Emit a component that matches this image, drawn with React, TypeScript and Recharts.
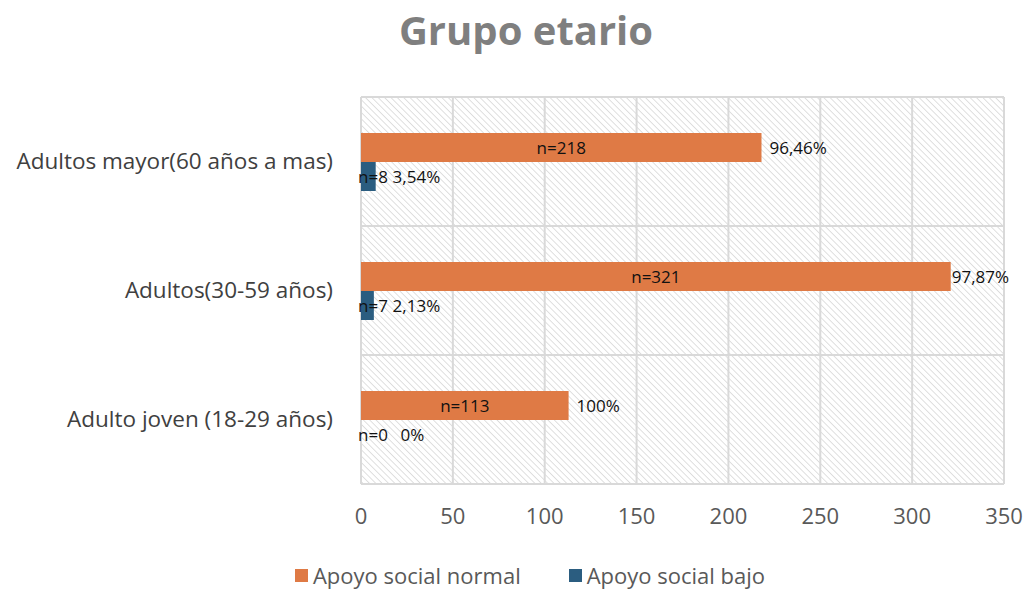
import { BarChart, Bar, XAxis, YAxis, CartesianGrid, LabelList } from 'recharts';

const categories = ['Adultos mayor(60 años a mas)', 'Adultos(30-59 años)', 'Adulto joven (18-29 años)'];
const normalValues = [218, 321, 113];
const bajoValues = [8, 7, 0];
const normalPct = ['96,46%', '97,87%', '100%'];
const bajoPct = ['3,54%', '2,13%', '0%'];
const xTicks = [0, 50, 100, 150, 200, 250, 300, 350];

const ORANGE = '#DF7A45';
const BLUE = '#2B5D80';
const FONT = '"Open Sans", "Liberation Sans", sans-serif';

const W = 1030;
const H = 592;
const MARGIN = { top: 97, right: 26, bottom: 78, left: 0 };
const PLOT_RIGHT = W - MARGIN.right;
const LABEL_SIZE = 17;

const data = categories.map((name, i) => ({
  name,
  normal: normalValues[i],
  bajo: bajoValues[i],
  normalPct: normalPct[i],
  bajoPct: bajoPct[i],
}));

// rough text width for the data labels
const textW = (s: string) => s.length * LABEL_SIZE * 0.6;

const drawPair = (n: string, pct: string, x: number, width: number, cy: number, zero: boolean, key: string) => {
  const nw = textW(n);
  const fits = nw < width - 4;
  const nStart = fits ? x + width / 2 - nw / 2 : x - 3;
  const nEnd = nStart + nw;
  let pStart = Math.max(x + width + 8, fits ? 0 : nEnd + 4);
  if (zero) pStart = nEnd + 12;
  pStart = Math.max(Math.min(pStart, PLOT_RIGHT - textW(pct)), x + width + 1);
  return (
    <g key={key} fontFamily={FONT} fontSize={LABEL_SIZE} fill="#111">
      <text x={fits ? x + width / 2 : nStart} y={cy} textAnchor={fits ? 'middle' : 'start'} dominantBaseline="central">{n}</text>
      <text x={pStart} y={cy} textAnchor="start" dominantBaseline="central">{pct}</text>
    </g>
  );
};

const makeLabel = (kind: 'normal' | 'bajo') => (props: any) => {
  const { x, y, width, height, index } = props;
  const row = data[index];
  const cy = y + height / 2;
  if (kind === 'bajo') {
    if (row.bajo === 0) return null;
    return drawPair(`n=${row.bajo}`, row.bajoPct, x, width, cy, false, 'b');
  }
  const parts = [drawPair(`n=${row.normal}`, row.normalPct, x, width, cy, false, 'n')];
  // a zero-length bar gets no label of its own, so draw it from the bar above
  if (row.bajo === 0) parts.push(drawPair(`n=${row.bajo}`, row.bajoPct, x, 0, cy + height, true, 'z'));
  return <g>{parts}</g>;
};

const legendItems = [
  { label: 'Apoyo social normal', color: ORANGE },
  { label: 'Apoyo social bajo', color: BLUE },
];

export default function App() {
  return (
    <div style={{ position: 'absolute', left: 0, top: 0, width: W, height: H, background: '#fff' }}>
      <div style={{ position: 'absolute', top: 2, left: 11, width: W, textAlign: 'center', fontFamily: FONT, fontWeight: 700, fontSize: 40, color: '#7F7F7F' }}>
        Grupo etario
      </div>
      <BarChart width={W} height={H} data={data} layout="vertical" margin={MARGIN} barGap={0}>
        <defs>
          <pattern id="hatch" width="4.5" height="4.5" patternUnits="userSpaceOnUse" patternTransform="rotate(-45)">
            <line x1="0" y1="0" x2="0" y2="4.5" stroke="#CACACA" strokeWidth="1.2" />
          </pattern>
        </defs>
        <CartesianGrid
          fill="url(#hatch)"
          stroke="#D9D9D9"
          strokeWidth={2}
          horizontalCoordinatesGenerator={({ offset }: any) =>
            categories.map((_, i) => offset.top + (i * offset.height) / categories.length).concat(offset.top + offset.height)
          }
          verticalCoordinatesGenerator={({ offset }: any) =>
            xTicks.map((t) => offset.left + (t / 350) * offset.width)
          }
        />
        <XAxis
          type="number"
          domain={[0, 350]}
          ticks={xTicks}
          axisLine={false}
          tickLine={false}
          tickSize={0}
          tickMargin={24}
          tick={{ fontSize: 22, fill: '#595959', fontFamily: FONT }}
        />
        <YAxis
          type="category"
          dataKey="name"
          width={361}
          axisLine={false}
          tickLine={false}
          tickSize={0}
          tickMargin={28}
          tick={{ fontSize: 22.5, fill: '#404040', fontFamily: FONT }}
        />
        <Bar dataKey="normal" fill={ORANGE} barSize={29} isAnimationActive={false}>
          <LabelList dataKey="normal" content={makeLabel('normal')} />
        </Bar>
        <Bar dataKey="bajo" fill={BLUE} barSize={29} isAnimationActive={false}>
          <LabelList dataKey="bajo" content={makeLabel('bajo')} />
        </Bar>
      </BarChart>
      <div style={{ position: 'absolute', top: 560, left: 0, width: W, display: 'flex', justifyContent: 'center', gap: 48, fontFamily: FONT, fontSize: 22, color: '#595959', paddingLeft: 30, boxSizing: 'border-box' }}>
        {legendItems.map((it) => (
          <div key={it.label} style={{ display: 'flex', alignItems: 'center', gap: 5 }}>
            <span style={{ width: 13, height: 13, background: it.color, display: 'inline-block' }} />
            <span>{it.label}</span>
          </div>
        ))}
      </div>
    </div>
  );
}
